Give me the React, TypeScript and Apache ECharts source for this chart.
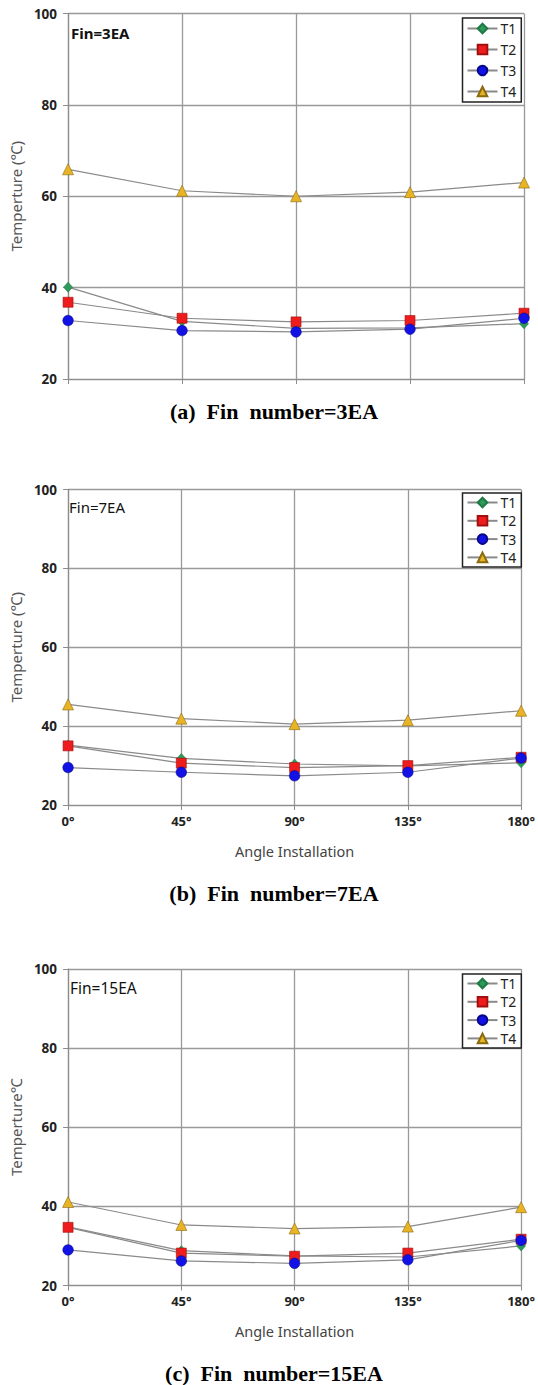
import React, { useEffect, useRef } from "react";
import * as echarts from "echarts";

const angles = ["0°", "45°", "90°", "135°", "180°"];
const seriesNames = ["T1", "T2", "T3", "T4"];
const yMin = 20;
const yMax = 100;
const yStep = 20;

const fin3T1 = [40.1, 32.6, 31.1, 31.2, 32.1];
const fin3T2 = [36.8, 33.3, 32.5, 32.8, 34.4];
const fin3T3 = [32.8, 30.6, 30.3, 30.9, 33.3];
const fin3T4 = [65.9, 61.2, 60.0, 60.9, 63.0];

const fin7T1 = [35.2, 31.8, 30.4, 29.9, 30.7];
const fin7T2 = [35.0, 30.6, 29.5, 30.0, 32.1];
const fin7T3 = [29.5, 28.3, 27.4, 28.3, 31.9];
const fin7T4 = [45.5, 41.9, 40.5, 41.5, 43.9];

const fin15T1 = [34.8, 28.8, 27.5, 27.2, 30.0];
const fin15T2 = [34.7, 28.2, 27.4, 28.2, 31.7];
const fin15T3 = [29.0, 26.2, 25.6, 26.5, 31.4];
const fin15T4 = [41.1, 35.3, 34.4, 34.9, 39.8];

const panelLabels = ["Fin=3EA", "Fin=7EA", "Fin=15EA"];
const captions = ["(a)  Fin  number=3EA", "(b)  Fin  number=7EA", "(c)  Fin  number=15EA"];
const yNames = ["Temperture (℃)", "Temperture (℃)", "Temperture℃"];
const xName = "Angle Installation";

const panelData = [
  [fin3T1, fin3T2, fin3T3, fin3T4],
  [fin7T1, fin7T2, fin7T3, fin7T4],
  [fin15T1, fin15T2, fin15T3, fin15T4],
];

const SANS = "'Noto Sans', 'Liberation Sans', sans-serif";

const grids = [
  { left: 62.5, top: 13.5, width: 461.5, height: 365.5 },
  { left: 62.5, top: 489.5, width: 461.5, height: 315.5 },
  { left: 62.5, top: 969, width: 461.5, height: 316.5 },
];

const markerStyles = [
  { symbol: "diamond", symbolSize: [9, 10], color: "#2e9a5a", border: "#1f7a44" },
  { symbol: "rect", symbolSize: 10, color: "#ee1c1c", border: "#a01010" },
  { symbol: "circle", symbolSize: 10.5, color: "#1212e6", border: "#08088a" },
  { symbol: "triangle", symbolSize: 11, color: "#e8b425", border: "#8a6a10" },
];

export default function App() {
  const ref = useRef<HTMLDivElement>(null);
  useEffect(() => {
    if (!ref.current) return;
    const chart = echarts.init(ref.current, undefined, { renderer: "svg" });

    const xAxis = grids.map((_, i) => ({
      type: "category",
      gridIndex: i,
      data: angles,
      boundaryGap: false,
      axisLine: { show: true, lineStyle: { color: "#8c8c8c", width: 1.2 } },
      axisTick: { show: true, length: 5, lineStyle: { color: "#8c8c8c" } },
      axisLabel: {
        show: i > 0,
        fontFamily: SANS,
        fontSize: 13,
        fontWeight: "bold",
        color: "#222",
        margin: 9,
      },
      splitLine: { show: true, lineStyle: { color: "#999", width: 1.3 } },
      name: i > 0 ? xName : "",
      nameLocation: "middle",
      nameGap: 38,
      nameTextStyle: { fontFamily: SANS, fontSize: 14.5, color: "#444" },
    }));

    const yAxis = grids.map((_, i) => ({
      type: "value",
      gridIndex: i,
      min: yMin,
      max: yMax,
      interval: yStep,
      axisLine: { show: true, lineStyle: { color: "#8c8c8c", width: 1.2 } },
      axisTick: { show: true, length: 5, lineStyle: { color: "#8c8c8c" } },
      axisLabel: {
        fontFamily: SANS,
        fontSize: 13.5,
        fontWeight: "bold",
        color: "#222",
        margin: 11,
      },
      splitLine: { show: true, lineStyle: { color: "#999", width: 1.3 } },
      name: yNames[i],
      nameLocation: "middle",
      nameGap: 38,
      nameTextStyle: { fontFamily: SANS, fontSize: 15, color: "#555" },
    }));

    const series: any[] = [];
    panelData.forEach((panel, gi) => {
      panel.forEach((vals, si) => {
        const m = markerStyles[si];
        series.push({
          type: "line",
          name: seriesNames[si],
          xAxisIndex: gi,
          yAxisIndex: gi,
          data: vals,
          symbol: m.symbol,
          symbolSize: m.symbolSize,
          showAllSymbol: true,
          lineStyle: { color: "#8a8a8a", width: 1.2 },
          itemStyle: { color: m.color, borderColor: m.border, borderWidth: 0.6 },
          emphasis: { disabled: true },
          z: 3 + si,
        });
      });
    });

    const legendTops = [18, 493, 974];
    const legendGaps = [7, 4.3, 4.3];
    const legendPads = [3.5, 2.5, 2.5];
    const legend = legendTops.map((t, i) => ({
      orient: "vertical",
      left: 462.5,
      top: t,
      itemWidth: 30,
      itemHeight: 12,
      itemGap: legendGaps[i],
      padding: [legendPads[i], 5, legendPads[i], 4],
      borderColor: "#222",
      borderWidth: 1.5,
      borderRadius: 0,
      backgroundColor: "#fff",
      textStyle: { fontFamily: SANS, fontSize: 14, color: "#222", padding: [0, 0, 0, -2] },
      data: seriesNames,
      selectedMode: false,
    }));

    const finPos = [
      { x: 71, y: 33, weight: "bold", size: 15 },
      { x: 69, y: 507, weight: "normal", size: 15 },
      { x: 70, y: 988, weight: "normal", size: 15.5 },
    ];
    const capY = [411, 893, 1373];

    const graphic: any[] = [];
    finPos.forEach((p, i) => {
      graphic.push({
        type: "text",
        x: p.x,
        y: p.y,
        z: 100,
        style: {
          text: panelLabels[i],
          font: `${p.weight} ${p.size}px ${SANS}`,
          fill: "#111",
          align: "left",
          verticalAlign: "middle",
          textAlign: "left",
          textVerticalAlign: "middle",
        },
      });
    });
    capY.forEach((y, i) => {
      graphic.push({
        type: "text",
        x: 274,
        y,
        z: 100,
        style: {
          text: captions[i],
          font: "bold 22px 'Liberation Serif', 'Times New Roman', serif",
          fill: "#000",
          align: "center",
          verticalAlign: "middle",
          textAlign: "center",
          textVerticalAlign: "middle",
        },
      });
    });

    chart.setOption({
      animation: false,
      backgroundColor: "#fff",
      grid: grids.map((g) => ({ ...g, containLabel: false })),
      xAxis,
      yAxis,
      legend,
      series,
      graphic,
    });
    return () => chart.dispose();
  }, []);

  return (
    <div
      ref={ref}
      style={{ position: "absolute", left: 0, top: 0, width: 538, height: 1385 }}
    />
  );
}
